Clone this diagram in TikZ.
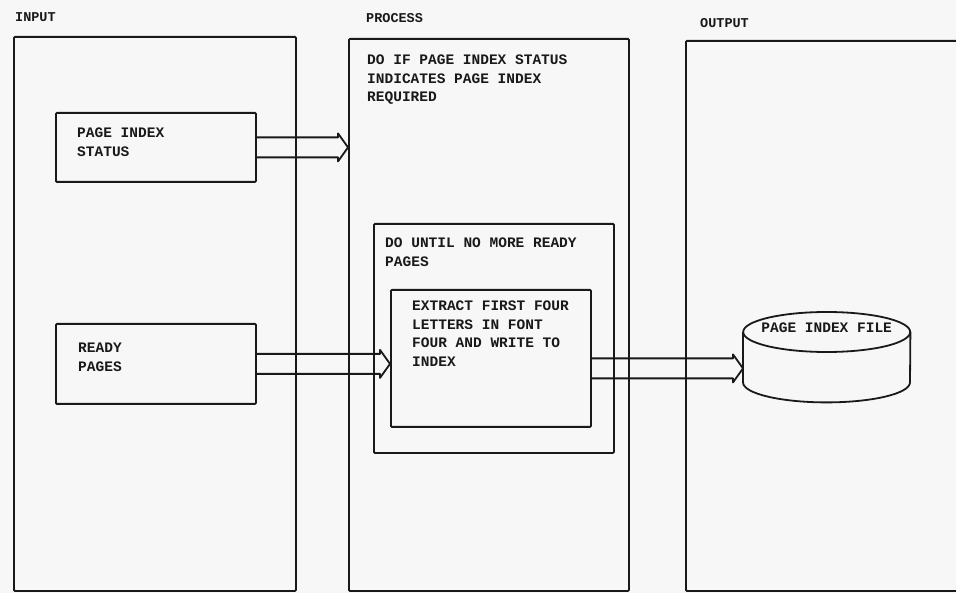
\documentclass[tikz,border=0pt]{standalone}
\usepackage{fontspec}
\setmonofont{Liberation Mono}
\usetikzlibrary{calc,positioning}

% open block arrow from one point to the x of another
\newcommand{\pipe}[2]{%
  \draw[pipeline] let \p1=(#1), \p2=(#2) in
    (\x1,\y1+10pt) -- (\x2-10pt,\y1+10pt) -- (\x2-10pt,\y1+14pt)
    -- (\x2,\y1) -- (\x2-10pt,\y1-14pt) -- (\x2-10pt,\y1-10pt) -- (\x1,\y1-10pt);
}

\begin{document}
\begin{tikzpicture}[
    x=1pt, y=-1pt,
    box/.style={draw=black!90, line width=1.8pt, rounded corners=1pt, inner sep=0pt, anchor=north west},
    txt/.style={inner sep=0pt, align=left, text=black!90, font=\ttfamily\bfseries\fontsize{14.5}{18.5}\selectfont},
    lbl/.style={inner sep=0pt, text=black!90, font=\ttfamily\bfseries\fontsize{13.5}{16}\selectfont},
    pipeline/.style={draw=black!90, line width=1.8pt, line join=round}
]
\fill[black!3] (0,0) rectangle (956,593);
\clip (0,0) rectangle (956,593);

% the three columns
\node[box, minimum width=282pt, minimum height=554pt] (inputbox) at (13,36) {};
\node[box, minimum width=280pt, minimum height=552pt] (processbox) at (348,38) {};
\node[box, minimum width=320pt, minimum height=550pt] (outputbox) at (685,40) {};

\node[lbl, above right=14pt and 2pt of inputbox.north west] (inputlbl) {INPUT};
\node[lbl, above right=15pt and 18pt of processbox.north west] (processlbl) {PROCESS};
\node[lbl, above right=12pt and 15pt of outputbox.north west] (outputlbl) {OUTPUT};

% input
\node[box, minimum width=200pt, minimum height=69pt] (statusbox) at (55,112) {};
\node[txt, below right=16pt and 22pt of statusbox.north west] (statustxt) {PAGE INDEX\\STATUS};
\node[box, minimum width=200pt, minimum height=80pt] (readybox) at (55,323) {};
\node[txt, below right=20pt and 23pt of readybox.north west] (readytxt) {READY\\PAGES};

% process
\node[txt, below right=17pt and 19pt of processbox.north west] (processtxt)
    {DO IF PAGE INDEX STATUS\\INDICATES PAGE INDEX\\REQUIRED};
\node[box, minimum width=240pt, minimum height=229pt] (untilbox) at (373,223) {};
\node[txt, below right=15pt and 12pt of untilbox.north west] (untiltxt) {DO UNTIL NO MORE READY\\PAGES};
\node[box, minimum width=200pt, minimum height=137pt] (extractbox) at (390,289) {};
\node[txt, below right=12pt and 22pt of extractbox.north west] (extracttxt)
    {EXTRACT FIRST FOUR\\LETTERS IN FONT\\FOUR AND WRITE TO\\INDEX};

% output file
\node[minimum width=167pt, minimum height=90pt, inner sep=0pt, anchor=north west] (indexfile) at (743,312) {};
\draw[pipeline] ([yshift=-20pt]indexfile.north) ellipse [x radius=83.5pt, y radius=20pt];
\draw[pipeline] ([yshift=-20pt]indexfile.north west) -- ([yshift=20pt]indexfile.south west)
    arc[start angle=180, end angle=360, x radius=83.5pt, y radius=20pt]
    -- ([yshift=-20pt]indexfile.north east);
\node[txt, below=11pt of indexfile.north] (filetxt) {PAGE INDEX FILE};

% flows
\pipe{statusbox.east}{processbox.west}
\pipe{readybox.east}{extractbox.west}
\pipe{$(extractbox.east)+(0,10)$}{indexfile.west}

\end{tikzpicture}
\end{document}
